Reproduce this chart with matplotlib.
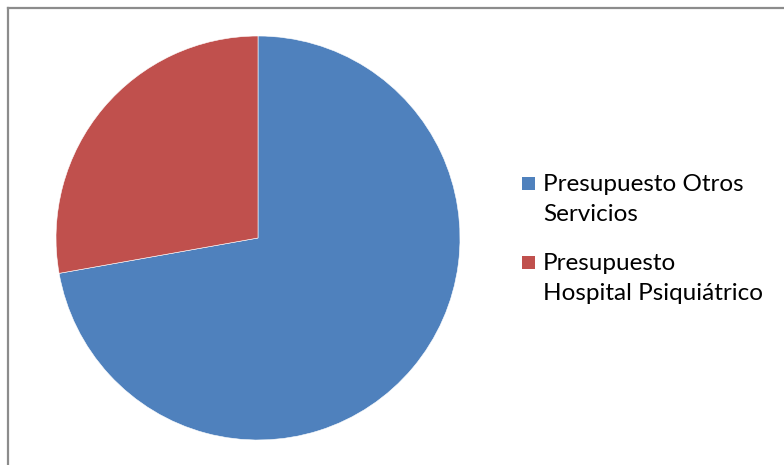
import matplotlib
matplotlib.use('Agg')
import matplotlib.pyplot as plt
from matplotlib.patches import Rectangle

# presupuesto share
labels = ["Presupuesto Otros\nServicios", "Presupuesto\nHospital Psiquiátrico"]
values = [72.2, 27.8]
colors = ["#4F81BD", "#C0504D"]

W, H = 784, 465
fig = plt.figure(figsize=(W / 100, H / 100), dpi=100)
fig.patch.set_facecolor("white")

# frame of the chart area (only top and left show)
fig.add_artist(plt.Line2D([8 / W, 8 / W], [0, 1 - 8 / H], transform=fig.transFigure,
                          color="#8c8c8c", lw=1.6))
fig.add_artist(plt.Line2D([8 / W, 1], [1 - 8 / H, 1 - 8 / H], transform=fig.transFigure,
                          color="#8c8c8c", lw=1.6))

# pie: center (258, 238), radius 202 px
cx, cy, r = 258, 238, 202
ax = fig.add_axes([(cx - r) / W, (H - cy - r) / H, 2 * r / W, 2 * r / H])
wedges, _ = ax.pie(values, colors=colors, startangle=90, counterclock=False,
                   wedgeprops=dict(edgecolor="white", linewidth=0.4))
ax.set_xlim(-1, 1)
ax.set_ylim(-1, 1)
ax.axis("off")

# legend drawn by hand so the marker sits on the first line
tops = [174, 253]
for lab, col, top in zip(labels, colors, tops):
    fig.add_artist(Rectangle((522 / W, 1 - (top + 16) / H), 13 / W, 13 / H,
                             transform=fig.transFigure, facecolor=col, edgecolor="none"))
    fig.text(543 / W, 1 - top / H, lab, ha="left", va="top", fontsize=17.5,
             family="Lato", color="black", linespacing=1.5)

fig.savefig("out.png", dpi=100)
